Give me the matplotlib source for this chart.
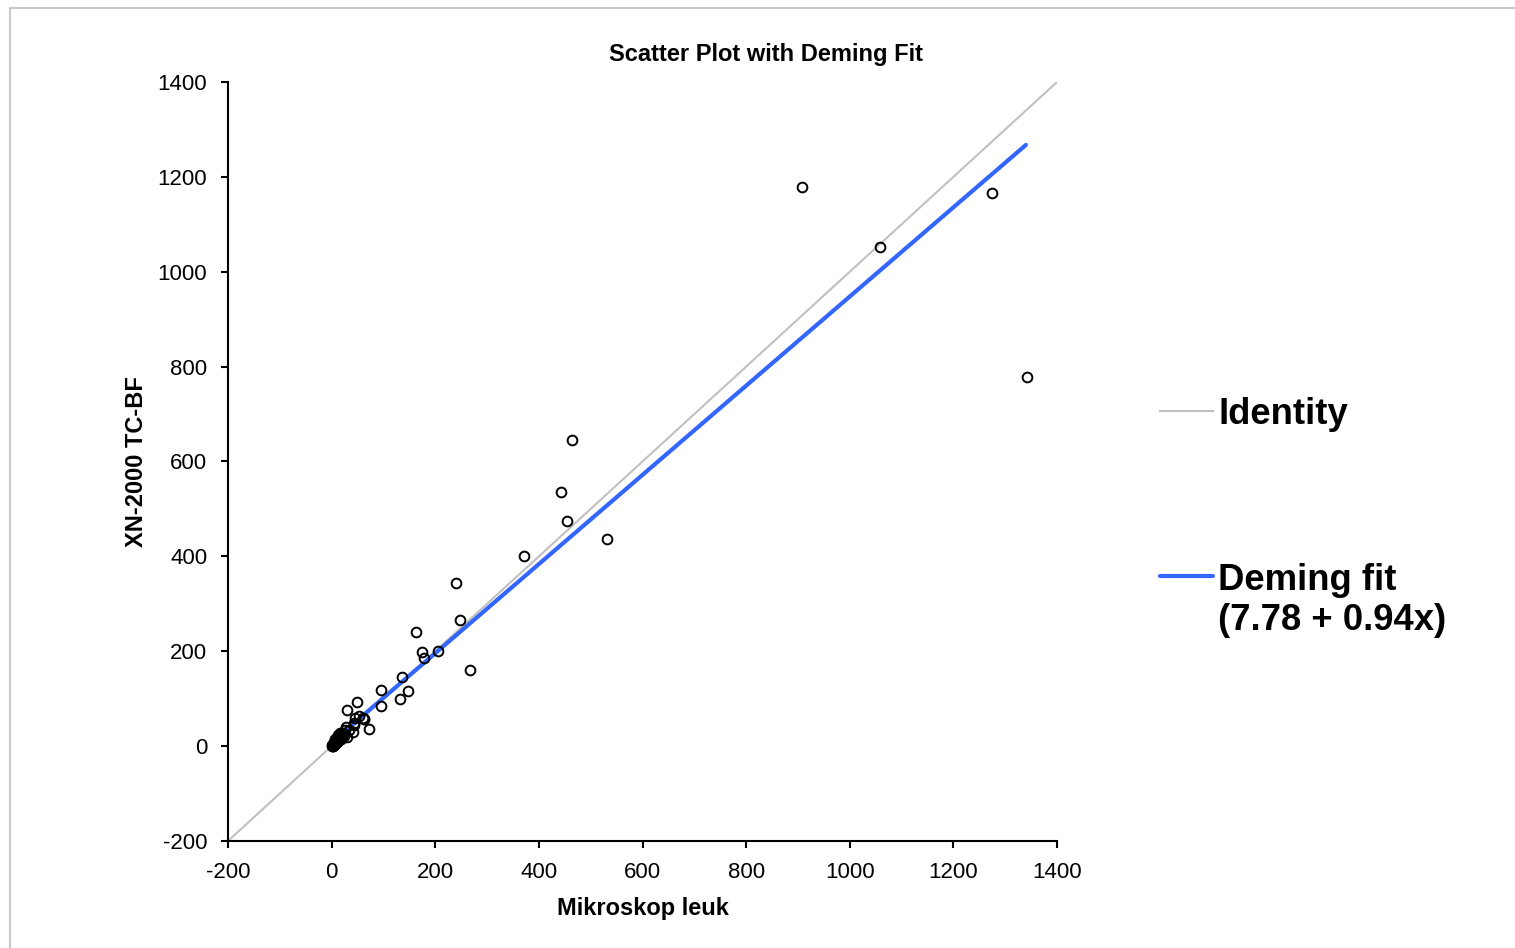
import matplotlib.pyplot as plt
from matplotlib.lines import Line2D

plt.rcParams['font.family'] = ['Liberation Sans', 'DejaVu Sans']
plt.rcParams['axes.unicode_minus'] = False

# Mikroskop leuk vs XN-2000 TC-BF
mikroskop = [908, 1058, 1275, 1343, 464, 443, 454, 532, 371, 240,
             248, 162, 268, 206, 174, 178, 136, 95, 147, 132,
             96, 48, 29, 52, 60, 63, 73, 44, 27, 41,
             30, 33, 43, 62, 45,
             0, 1, 2, 3, 4, 5, 6, 7, 8, 9,
             10, 11, 12, 14, 15, 16, 18, 19, 20, 22,
             24, 25, 2, 3, 13, 17, 6]
xn2000 = [1178, 1052, 1166, 778, 645, 535, 474, 436, 401, 344,
          265, 240, 160, 200, 198, 185, 146, 118, 117, 100,
          85, 94, 77, 63, 60, 57, 35, 48, 40, 29,
          19, 33, 44, 58, 59,
          1, 3, 0, 5, 2, 8, 4, 10, 6, 12,
          9, 15, 11, 17, 13, 20, 16, 24, 19, 28,
          22, 33, 2, 1, 24, 27, 14]

intercept = 7.78
slope = 0.94
fit_range = [0, 1340]
axis_range = [-200, 1400]
ticks = [-200, 0, 200, 400, 600, 800, 1000, 1200, 1400]

fig = plt.figure(figsize=(15.15, 9.48), dpi=100)
ax = fig.add_axes([0.1505, 0.1129, 0.5472, 0.8006])

ax.plot(axis_range, axis_range, color='#c0c0c0', lw=1.5, zorder=1)
fit_y = [intercept + slope * v for v in fit_range]
ax.plot(fit_range, fit_y, color='#3366ff', lw=3, solid_capstyle='round', zorder=2)
ax.plot(mikroskop, xn2000, 'o', mfc='none', mec='black', ms=7, mew=1.4, zorder=3)

ax.set_xlim(axis_range)
ax.set_ylim(axis_range)
ax.set_xticks(ticks)
ax.set_yticks(ticks)
ax.tick_params(direction='out', length=5, width=1.5, labelsize=16, pad=10)
for s in ['top', 'right']:
    ax.spines[s].set_visible(False)
for s in ['left', 'bottom']:
    ax.spines[s].set_linewidth(1.5)

ax.set_xlabel('Mikroskop leuk', fontsize=17, fontweight='bold', labelpad=10)
ax.set_ylabel('XN-2000 TC-BF', fontsize=17, fontweight='bold', labelpad=7)
fig.text(0.5056, 1 - 54 / 948, 'Scatter Plot with Deming Fit', ha='center', va='center',
         fontsize=17, fontweight='bold')

# legend drawn by hand so the swatch sits on the first text line
fig.add_artist(Line2D([0.7657, 0.8007], [1 - 411 / 948] * 2, color='#c0c0c0', lw=1.5))
fig.text(0.804, 1 - 424 / 948, 'Identity', fontsize=26.3, fontweight='bold', va='baseline')
fig.add_artist(Line2D([0.7657, 0.8007], [1 - 576 / 948] * 2, color='#3366ff', lw=3,
                      solid_capstyle='round'))
fig.text(0.804, 1 - 590 / 948, 'Deming fit', fontsize=26.3, fontweight='bold', va='baseline')
fig.text(0.804, 1 - 630 / 948, f'({intercept} + {slope}x)', fontsize=26.3, fontweight='bold',
         va='baseline')

# light frame around the chart
fig.add_artist(Line2D([10 / 1515, 10 / 1515], [-0.1, 1 - 8 / 948], color='#c8c8c8', lw=1.5))
fig.add_artist(Line2D([10 / 1515, 1.1], [1 - 8 / 948] * 2, color='#c8c8c8', lw=1.5))

fig.savefig('out.png', dpi=100)
